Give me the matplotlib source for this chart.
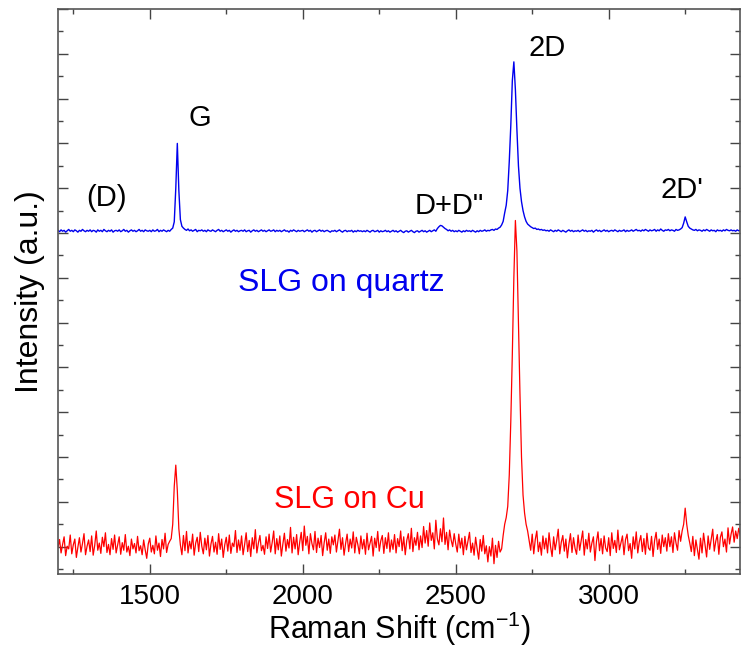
import numpy as np
import matplotlib
matplotlib.use('Agg')
import matplotlib.pyplot as plt
from matplotlib.ticker import MultipleLocator, NullFormatter

# Raman shift grid (cm^-1), one point every 5 cm^-1
shift = np.arange(1200, 3431, 5)

# SLG on quartz (blue)
quartz = [
    806, 803, 807, 804, 806, 802, 805, 808, 804, 806, 803, 807, 805, 802, 806, 804, 808, 805, 803, 806,
    804, 807, 803, 806, 805, 802, 807, 804, 806, 803, 808, 805, 803, 806, 804, 807, 802, 805, 806, 804,
    807, 803, 805, 808, 804, 806, 802, 805, 807, 804, 806, 803, 805, 808, 804, 806, 803, 807, 805, 804,
    806, 803, 807, 804, 805, 808, 803, 806, 804, 807, 805, 803, 806, 804, 808, 811, 825, 900, 1000, 895,
    830, 815, 811, 808, 806, 809, 805, 807, 804, 806, 808, 803, 806, 805, 807, 804, 806, 803, 807, 805,
    804, 807, 805, 803, 806, 808, 804, 806, 803, 805, 807, 804, 806, 802, 805, 807, 804, 806, 803, 805,
    806, 804, 807, 803, 805, 806, 802, 805, 807, 804, 806, 803, 805, 807, 804, 806, 803, 805, 807, 804,
    805, 807, 803, 806, 804, 806, 803, 805, 807, 804, 805, 802, 806, 804, 807, 805, 803, 806, 804, 805,
    806, 803, 805, 807, 804, 806, 802, 805, 806, 803, 805, 807, 804, 806, 803, 805, 806, 804, 802, 805,
    804, 806, 803, 805, 807, 804, 802, 805, 806, 803, 805, 804, 806, 802, 805, 803, 806, 804, 805, 803,
    805, 803, 806, 804, 802, 805, 806, 803, 804, 806, 802, 805, 803, 804, 806, 803, 805, 802, 804, 806,
    803, 805, 802, 804, 806, 803, 801, 804, 805, 802, 804, 806, 803, 801, 804, 805, 802, 804, 806, 803,
    805, 802, 804, 806, 803, 805, 807, 804, 810, 814, 817, 816, 813, 810, 808, 805, 807, 804, 806, 803,
    805, 803, 806, 804, 802, 805, 803, 806, 804, 805, 803, 806, 804, 802, 805, 803, 806, 804, 805, 807,
    804, 806, 805, 807, 808, 806, 809, 808, 811, 813, 818, 826, 845, 862, 895, 960, 1040, 1140, 1182, 1120,
    1030, 950, 900, 870, 850, 836, 826, 820, 817, 814, 812, 810, 811, 808, 809, 807, 808, 806, 807, 805,
    806, 804, 807, 805, 803, 806, 804, 807, 805, 803, 806, 804, 802, 805, 807, 804, 806, 803, 805, 804,
    806, 803, 805, 807, 804, 806, 803, 805, 804, 806, 802, 805, 807, 804, 806, 803, 805, 807, 804, 806,
    803, 805, 806, 804, 807, 805, 803, 806, 804, 805, 807, 803, 806, 804, 805, 807, 804, 806, 808, 805,
    806, 804, 807, 805, 808, 806, 804, 807, 805, 806, 808, 804, 807, 805, 809, 806, 804, 807, 806, 808,
    805, 807, 806, 804, 808, 806, 807, 809, 812, 822, 836, 825, 815, 811, 809, 807, 806, 808, 805, 807,
    806, 804, 807, 805, 808, 806, 804, 807, 805, 806, 803, 807, 805, 806, 804, 807, 805, 808, 806, 805,
    807, 805, 806, 804, 807, 805, 806,
]

# SLG on Cu (red)
copper = [
    98, 116, 86, 105, 122, 80, 101, 95, 126, 84, 104, 117, 76, 99, 120, 88, 107, 129, 82, 101,
    115, 89, 124, 81, 103, 135, 92, 108, 85, 121, 100, 131, 87, 105, 82, 118, 94, 126, 86, 104,
    122, 83, 109, 92, 127, 88, 101, 80, 117, 95, 107, 86, 123, 91, 102, 82, 115, 93, 74, 106,
    119, 88, 103, 84, 124, 92, 108, 78, 116, 95, 130, 87, 105, 112, 118, 150, 235, 282, 225, 140,
    104, 82, 125, 91, 134, 86, 112, 95, 128, 81, 108, 121, 89, 132, 101, 84, 119, 93, 125, 79,
    106, 123, 88, 110, 83, 129, 94, 117, 76, 104, 121, 90, 126, 85, 108, 100, 136, 87, 115, 92,
    124, 82, 105, 131, 89, 114, 78, 120, 95, 138, 86, 108, 125, 91, 103, 83, 122, 96, 128, 88,
    109, 135, 84, 118, 93, 124, 79, 106, 130, 90, 116, 97, 143, 86, 121, 95, 127, 82, 110, 132,
    91, 146, 103, 123, 84, 129, 107, 93, 134, 87, 119, 98, 125, 80, 109, 131, 92, 117, 85, 122,
    104, 126, 88, 114, 139, 94, 120, 81, 107, 128, 89, 117, 97, 133, 86, 121, 105, 84, 124, 95,
    116, 83, 130, 93, 108, 123, 79, 119, 98, 134, 90, 113, 125, 85, 120, 96, 131, 88, 115, 94,
    127, 86, 118, 100, 135, 91, 122, 82, 114, 129, 95, 141, 89, 120, 103, 132, 93, 124, 98, 145,
    108, 136, 101, 153, 114, 131, 95, 159, 117, 104, 140, 111, 164, 105, 132, 93, 137, 115, 100, 129,
    106, 88, 128, 97, 119, 82, 123, 93, 112, 132, 87, 108, 81, 121, 95, 72, 116, 90, 125, 84,
    102, 66, 100, 79, 119, 62, 103, 76, 112, 88, 95, 125, 150, 165, 190, 260, 380, 530, 700, 828,
    760, 600, 440, 300, 215, 175, 150, 135, 114, 92, 128, 84, 116, 135, 89, 110, 81, 124, 95, 119,
    86, 131, 100, 78, 122, 93, 114, 139, 84, 110, 125, 90, 117, 75, 106, 129, 87, 120, 96, 83,
    126, 92, 113, 135, 81, 116, 95, 130, 88, 108, 122, 69, 111, 133, 91, 118, 84, 124, 97, 89,
    120, 80, 131, 96, 114, 87, 137, 93, 109, 124, 82, 116, 128, 91, 107, 74, 122, 95, 133, 86,
    111, 125, 89, 118, 83, 130, 97, 92, 123, 78, 114, 132, 94, 117, 85, 126, 100, 120, 90, 129,
    100, 122, 87, 131, 108, 92, 136, 112, 135, 150, 186, 150, 125, 108, 89, 123, 80, 115, 93, 72,
    119, 86, 130, 103, 77, 124, 94, 116, 139, 90, 112, 127, 83, 121, 133, 100, 117, 88, 142, 106,
    128, 144, 110, 135, 118, 141, 125,
]

# peak labels: text, x (cm^-1), y (a.u.)
peak_labels = [('G', 1663, 1057), ('(D)', 1360, 878), ('D+D"', 2478, 860),
               ('2D', 2798, 1213), ("2D'", 3238, 896)]

plt.rcParams['font.family'] = ['Liberation Sans', 'DejaVu Sans']
plt.rcParams['mathtext.fontset'] = 'custom'
plt.rcParams['mathtext.rm'] = 'Liberation Sans'

fig = plt.figure(figsize=(7.41, 6.61), dpi=100)
ax = fig.add_axes([58 / 741, 1 - 574 / 661, 1 - 58 / 741 - 0.001, (574 - 9) / 661])

ax.plot(shift, quartz, color='#0000ee', lw=1.0)
ax.plot(shift, copper, color='#ff0000', lw=0.9)

for txt, x, y in peak_labels:
    ax.text(x, y, txt, fontsize=21, ha='center', va='center', color='black')
ax.text(2126, 689, 'SLG on quartz', fontsize=23, ha='center', va='center', color='#0000ee')
ax.text(2152, 204, 'SLG on Cu', fontsize=22, ha='center', va='center', color='#ff0000')

ax.set_xlim(1200, 3430)
ax.set_ylim(39, 1300)
ax.xaxis.set_major_locator(MultipleLocator(500))
ax.xaxis.set_minor_locator(MultipleLocator(250))
ax.yaxis.set_major_locator(MultipleLocator(100))
ax.yaxis.set_minor_locator(MultipleLocator(50))
ax.yaxis.set_major_formatter(NullFormatter())
ax.tick_params(which='both', direction='in', top=True, right=True, color='#444444')
ax.tick_params(which='major', length=7, width=1)
ax.tick_params(which='minor', length=3.5, width=1)
ax.tick_params(axis='x', labelsize=20, pad=7)
for s in ax.spines.values():
    s.set_color('#555555')
    s.set_linewidth(1.2)

ax.set_xlabel('Raman Shift (cm$^{\\mathregular{-1}}$)', fontsize=22, labelpad=0)
ax.set_ylabel('Intensity (a.u.)', fontsize=23, labelpad=6)

fig.savefig('out.png', dpi=100)
